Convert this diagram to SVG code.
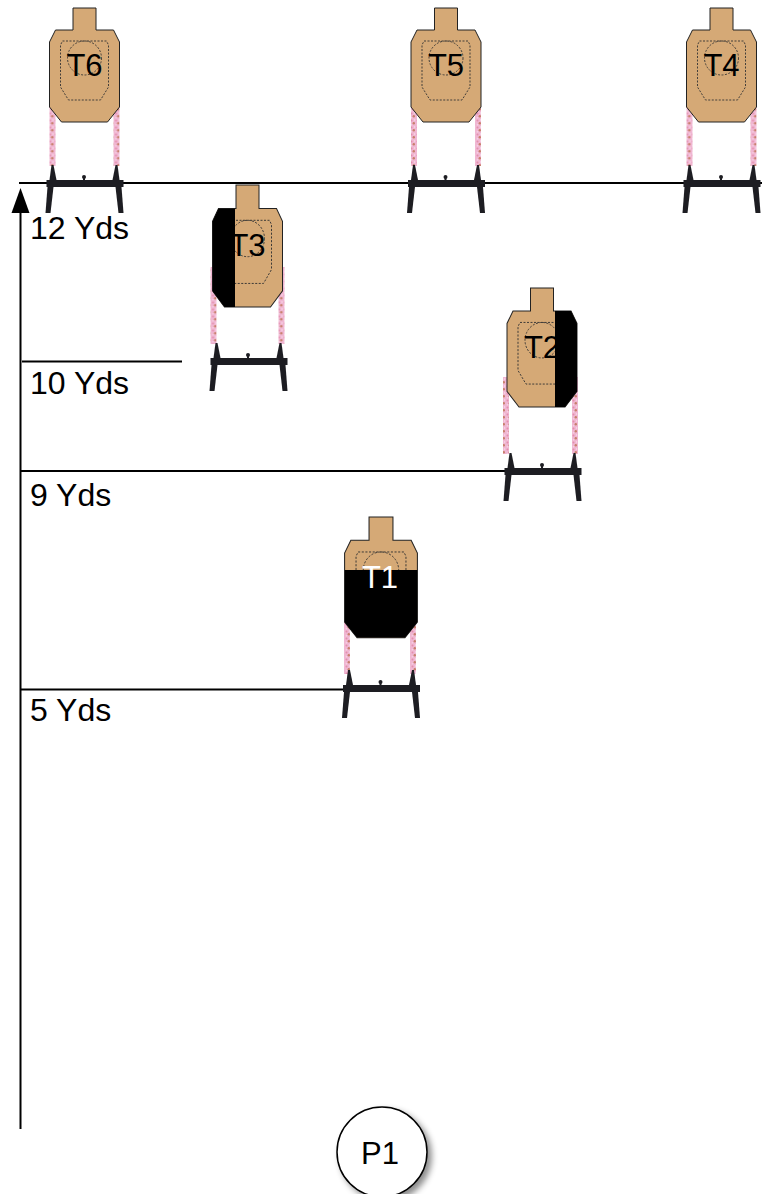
<svg xmlns="http://www.w3.org/2000/svg" xmlns:xlink="http://www.w3.org/1999/xlink" width="771" height="1194" viewBox="0 0 771 1194">
  <style>
    .lbl { font-family: "Liberation Sans", Arial, sans-serif; font-size: 32px; fill: #000; }
    .tl { font-family: "Liberation Sans", Arial, sans-serif; font-size: 31px; text-anchor: middle; fill: #000; }
    .rule { stroke: #000; stroke-width: 2; fill: none; }
    .dash { fill: none; stroke: #333; stroke-width: 0.9; stroke-dasharray: 2 1.5; }
    .stand { fill: #1d1d22; }
    .stick { fill: url(#stickTex); filter: url(#soft); }
  </style>
  <defs>
    <pattern id="stickTex" width="6" height="7" patternUnits="userSpaceOnUse">
      <rect width="6" height="7" fill="#f0b6d2"/>
      <circle cx="1.5" cy="1.5" r="1" fill="#e48fae"/>
      <circle cx="3.8" cy="4.2" r="1.2" fill="#c8806c"/>
      <circle cx="1.4" cy="5.8" r="0.8" fill="#f7d2e4"/>
      <circle cx="4.6" cy="1" r="0.7" fill="#f9dcea"/>
    </pattern>
    <filter id="soft" x="-50%" y="-10%" width="200%" height="120%">
      <feGaussianBlur stdDeviation="0.45"/>
    </filter>
    <filter id="shadow" x="-30%" y="-30%" width="170%" height="170%">
      <feDropShadow dx="4" dy="4" stdDeviation="3" flood-color="#000" flood-opacity="0.45"/>
    </filter>
    <clipPath id="bodyClip">
      <path d="M-29,22 H29 L35,34 V99 L23,114 H-23 L-35,99 V34 Z"/>
    </clipPath>
    <!-- silhouette target: head top at y=0, centred on x=0 -->
    <g id="tgtBody">
      <path d="M-11.5,22 V0 H11.5 V22 H29 L35,34 V99 L23,114 H-23 L-35,99 V34 L-29,22 Z" fill="#D5A976" stroke="#222" stroke-width="1"/>
      <path class="dash" d="M-22,33 H22 L24,37 V79 L16,92 H-16 L-24,79 V37 Z"/>
      <circle class="dash" cx="0" cy="50" r="17"/>
    </g>
    <!-- stand: crossbar top at y=0 -->
    <g id="stand">
      <polygon class="stand" points="-33,-15 -31,-15 -28,0 -35,0"/>
      <polygon class="stand" points="31,-15 33,-15 35,0 28,0"/>
      <rect class="stand" x="-38" y="0" width="77" height="7"/>
      <polygon class="stand" points="-37,7 -31,7 -34,33 -39,33"/>
      <polygon class="stand" points="31,7 37,7 39,33 34,33"/>
      <rect class="stand" x="-1.5" y="-3" width="2" height="3"/>
      <circle class="stand" cx="-0.5" cy="-3" r="2"/>
    </g>
  </defs>

  <!-- distance rules -->
  <g id="connectors">
    <line class="rule" x1="19" y1="183" x2="762" y2="183"/>
    <line class="rule" x1="22" y1="361.5" x2="182" y2="361.5"/>
    <line class="rule" x1="20" y1="471" x2="506" y2="471"/>
    <line class="rule" x1="20" y1="689.5" x2="345" y2="689.5"/>
    <line class="rule" x1="20.5" y1="1129" x2="20.5" y2="210"/>
    <polygon points="20.5,188 11.5,213 29.5,213" fill="#000"/>
  </g>

  <g id="labels">
    <text class="lbl" x="30" y="239">12 Yds</text>
    <text class="lbl" x="30" y="394">10 Yds</text>
    <text class="lbl" x="30" y="506">9 Yds</text>
    <text class="lbl" x="30" y="721">5 Yds</text>
  </g>

  <g id="T6" transform="translate(84.5,0)">
    <rect class="stick" x="-35" y="93" width="6" height="73"/>
    <rect class="stick" x="29" y="93" width="6" height="73"/>
    <use xlink:href="#stand" href="#stand" transform="translate(0,180)"/>
    <use xlink:href="#tgtBody" href="#tgtBody" transform="translate(0,8)"/>
    <text class="tl" x="0" y="76">T6</text>
  </g>

  <g id="T5" transform="translate(446,0)">
    <rect class="stick" x="-35" y="93" width="6" height="73"/>
    <rect class="stick" x="29" y="93" width="6" height="73"/>
    <use xlink:href="#stand" href="#stand" transform="translate(0,180)"/>
    <use xlink:href="#tgtBody" href="#tgtBody" transform="translate(0,8)"/>
    <text class="tl" x="0" y="76">T5</text>
  </g>

  <g id="T4" transform="translate(721.5,0)">
    <rect class="stick" x="-35" y="93" width="6" height="73"/>
    <rect class="stick" x="29" y="93" width="6" height="73"/>
    <use xlink:href="#stand" href="#stand" transform="translate(0,180)"/>
    <use xlink:href="#tgtBody" href="#tgtBody" transform="translate(0,8)"/>
    <text class="tl" x="0" y="76">T4</text>
  </g>

  <g id="T3" transform="translate(247.5,0)">
    <rect class="stick" x="-37" y="267" width="6" height="77"/>
    <rect class="stick" x="31" y="267" width="6" height="77"/>
    <use xlink:href="#stand" href="#stand" transform="translate(1,358)"/>
    <g transform="translate(0,185) scale(1,1.07)">
      <use xlink:href="#tgtBody" href="#tgtBody"/>
      <rect x="-40" y="15" width="27.5" height="105" fill="#000" clip-path="url(#bodyClip)"/>
    </g>
    <text class="tl" x="0" y="256">T3</text>
  </g>

  <g id="T2" transform="translate(542,0)">
    <rect class="stick" x="-39" y="377" width="6" height="77"/>
    <rect class="stick" x="30" y="377" width="6" height="77"/>
    <use xlink:href="#stand" href="#stand" transform="translate(0.5,468)"/>
    <g transform="translate(0,288) scale(1,1.044)">
      <use xlink:href="#tgtBody" href="#tgtBody"/>
      <rect x="13" y="15" width="27" height="105" fill="#000" clip-path="url(#bodyClip)"/>
    </g>
    <text class="tl" x="0" y="358">T2</text>
  </g>

  <g id="T1" transform="translate(381,0)">
    <rect class="stick" x="-37" y="620" width="6" height="54"/>
    <rect class="stick" x="29" y="620" width="6" height="54"/>
    <use xlink:href="#stand" href="#stand" transform="translate(0,685)"/>
    <g transform="translate(0,517) scale(1.04,1.06)">
      <use xlink:href="#tgtBody" href="#tgtBody"/>
      <rect x="-40" y="50" width="80" height="70" fill="#000" clip-path="url(#bodyClip)"/>
    </g>
    <text class="tl" x="-1" y="588" style="fill:#fff">T1</text>
  </g>

  <g id="P1">
    <circle cx="382" cy="1152" r="45" fill="#fff" stroke="#000" stroke-width="1.5" filter="url(#shadow)"/>
    <text class="tl" x="380" y="1164">P1</text>
  </g>
</svg>
